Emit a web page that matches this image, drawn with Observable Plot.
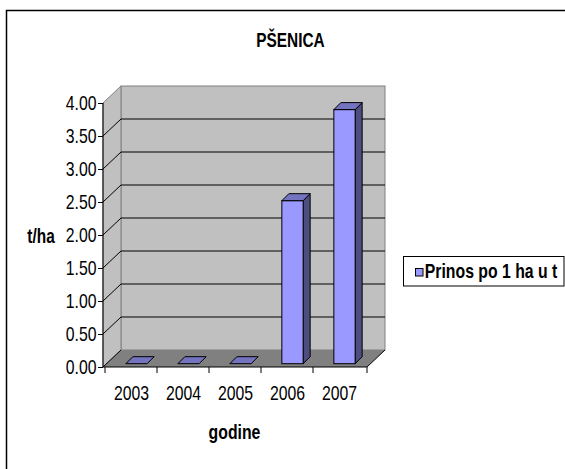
<!DOCTYPE html>
<html><head><meta charset="utf-8">
<script src="https://cdn.jsdelivr.net/npm/d3@7"></script>
<script src="https://cdn.jsdelivr.net/npm/@observablehq/plot@0.6"></script>
<style>
html,body{margin:0;padding:0;background:#fff;}
#chart svg{display:block;}
</style></head><body><div id="chart"></div>
<script>
const years = ["2003", "2004", "2005", "2006", "2007"];
const yields = [0, 0, 0, 2.47, 3.85];
const yTicks = [0, 0.5, 1, 1.5, 2, 2.5, 3, 3.5, 4];
const titleText = "PŠENICA";
const yLabel = "t/ha";
const xLabel = "godine";
const seriesName = "Prinos po 1 ha u t";

const data = years.map((year, i) => ({year, value: yields[i]}));

const DEPTH = [18, -17];
const BAR_OFF = [5.5, -3.3];
const BAR_DEPTH = [7, -7];
const BAR_W = 21.3;
const NARROW = 0.79;
const FONT = "'Liberation Sans',Arial,sans-serif";

function scene(index, scales, values, dims) {
  const {x, y} = scales;
  const g = d3.create("svg:g");
  const x0 = dims.marginLeft, x1 = dims.width - dims.marginRight;
  const yb = y(0), yt = y(4);
  const [DX, DY] = DEPTH;
  const bw = x.bandwidth();
  g.append("rect").attr("x", 6.5).attr("y", 10.5).attr("width", 700).attr("height", 700)
    .attr("fill", "none").attr("stroke", "#000").attr("stroke-width", 1.5);
  g.append("rect").attr("x", x0 + DX).attr("y", yt + DY).attr("width", x1 - x0).attr("height", yb - yt)
    .attr("fill", "#c0c0c0").attr("stroke", "#808080");
  g.append("path").attr("d", `M${x0},${yb}L${x0},${yt}L${x0 + DX},${yt + DY}L${x0 + DX},${yb + DY}Z`)
    .attr("fill", "#c0c0c0").attr("stroke", "#808080");
  for (const t of yTicks) {
    if (t === 0 || t === 4) continue;
    const yy = y(t);
    g.append("path").attr("d", `M${x0},${yy}L${x0 + DX},${yy + DY}L${x1 + DX},${yy + DY}`)
      .attr("fill", "none").attr("stroke", "#000");
  }
  g.append("path").attr("d", `M${x0},${yb}L${x1},${yb}L${x1 + DX},${yb + DY}L${x0 + DX},${yb + DY}Z`)
    .attr("fill", "#808080").attr("stroke", "none");
  g.append("path").attr("d", `M${x0},${yb}L${x0 + DX},${yb + DY}`).attr("stroke", "#000").attr("fill", "none");
  g.append("path").attr("d", `M${x1},${yb}L${x1 + DX},${yb + DY}`).attr("stroke", "#000").attr("fill", "none");
  g.append("path").attr("d", `M${x0},${yt}L${x0},${yb}L${x1},${yb}`).attr("fill", "none").attr("stroke", "#000");
  for (const yr of years) {
    const xx = x(yr);
    g.append("line").attr("x1", xx).attr("x2", xx).attr("y1", yb).attr("y2", yb + 6).attr("stroke", "#000");
  }
  g.append("line").attr("x1", x1).attr("x2", x1).attr("y1", yb).attr("y2", yb + 6).attr("stroke", "#000");
  const [bdx, bdy] = BAR_DEPTH;
  data.forEach(d => {
    const cx = x(d.year) + bw / 2 + BAR_OFF[0];
    const l = cx - BAR_W / 2, r = cx + BAR_W / 2;
    const base = y(0) + BAR_OFF[1];
    const top = y(d.value) + BAR_OFF[1];
    if (d.value > 0) {
      g.append("path").attr("d", `M${r},${base}L${r},${top}L${r + bdx},${top + bdy}L${r + bdx},${base + bdy}Z`)
        .attr("fill", "#4d4d80").attr("stroke", "#000").attr("stroke-linejoin", "round");
      g.append("rect").attr("x", l).attr("y", top).attr("width", BAR_W).attr("height", base - top)
        .attr("fill", "#9999ff").attr("stroke", "#000");
    }
    g.append("path").attr("d", `M${l},${top}L${r},${top}L${r + bdx},${top + bdy}L${l + bdx},${top + bdy}Z`)
      .attr("fill", "#7373bf").attr("stroke", "#000").attr("stroke-linejoin", "round");
  });
  g.append("rect").attr("x", 403.5).attr("y", 256.5).attr("width", 160.5).attr("height", 29.5)
    .attr("fill", "#fff").attr("stroke", "#000");
  g.append("rect").attr("x", 415.5).attr("y", 268.5).attr("width", 7.5).attr("height", 7.5)
    .attr("fill", "#9999ff").attr("stroke", "#000");
  return g.node();
}

const chart = Plot.plot({
  width: 565,
  height: 469,
  marginLeft: 103,
  marginRight: 198,
  marginTop: 103,
  marginBottom: 102,
  style: {fontFamily: FONT, fontSize: "20px", background: "#fff", color: "#000"},
  x: {type: "band", domain: years, padding: 0},
  y: {domain: [0, 4]},
  marks: [
    scene,
    Plot.axisY({ticks: yTicks, tickFormat: d => d.toFixed(2), tickSize: 5, tickPadding: 2, label: null}),
    Plot.axisX({tickSize: 0, tickPadding: 18.5, label: null}),
    Plot.text([titleText], {text: d => d, frameAnchor: "top", dx: 55, dy: -57, lineAnchor: "bottom", fontWeight: "bold", fontSize: 19.5}),
    Plot.text([yLabel], {text: d => d, frameAnchor: "left", dx: -62.5, dy: 7.7, lineAnchor: "bottom", textAnchor: "middle", fontWeight: "bold", fontSize: 19.5}),
    Plot.text([xLabel], {text: d => d, frameAnchor: "bottom", dx: -1, dy: 71, lineAnchor: "bottom", fontWeight: "bold"}),
    Plot.text([seriesName], {text: d => d, frameAnchor: "right", dx: 57.3, dy: 42.7, lineAnchor: "bottom", textAnchor: "start", fontWeight: "bold"})
  ]
});
// condense all text horizontally around its anchor (narrow face look)
chart.querySelectorAll("text").forEach(t => {
  let tr = t.getAttribute("transform") || "";
  const xa = t.getAttribute("x");
  if (xa != null && !isNaN(+xa)) {
    tr = `translate(${+xa},0) ` + tr;
    t.removeAttribute("x");
  }
  t.setAttribute("transform", `${tr} scale(${NARROW},1)`);
});
document.getElementById("chart").appendChild(chart);
</script>
</body></html>
